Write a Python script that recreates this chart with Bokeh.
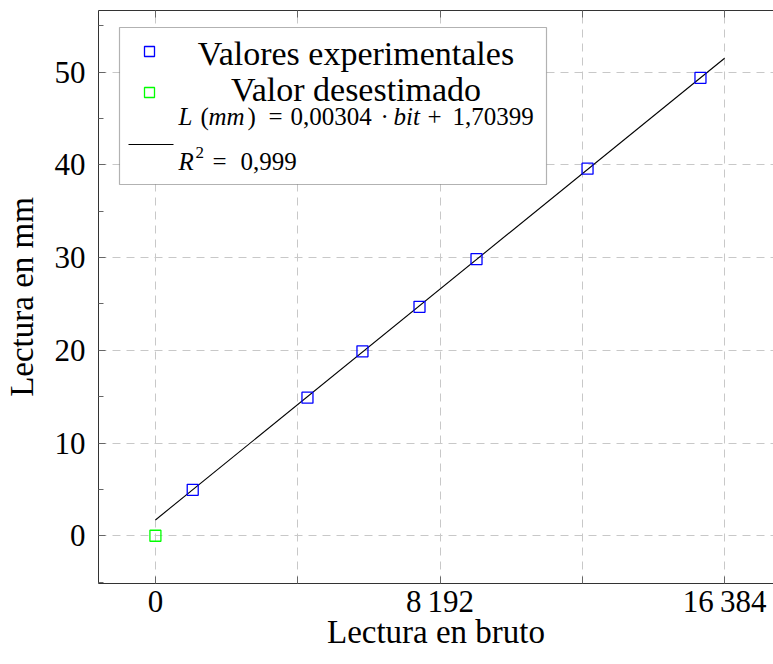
from bokeh.plotting import figure
from bokeh.models import Range1d, FixedTicker, LinearAxis, BoxAnnotation
from bokeh.core.properties import value
from bokeh.embed import file_html
from bokeh.resources import INLINE

# ---- data ----
bits_exp = [1074, 4377, 5960, 7602, 9243, 12439, 15690]
mm_exp = [4.96, 14.9, 19.9, 24.7, 29.85, 39.6, 49.4]
bits_desest = [0]
mm_desest = [0]
slope = 0.00304
intercept = 1.70399
r2_text = "0,999"
fit_bits = [0, 16384]
fit_mm = [slope * b + intercept for b in fit_bits]

x_ticks = [0, 4096, 8192, 12288, 16384]
x_tick_labels = {0: "0", 4096: "", 8192: "8\u2009192", 12288: "", 16384: "16\u2009384"}
y_ticks = [0, 10, 20, 30, 40, 50]
y_minor = [-5, 5, 15, 25, 35, 45, 55]

SERIF = "'Liberation Serif', serif"

W, H = 773, 664
FL, FT, FW, FH = 98, 10, 675, 573
XMIN, XFULL = -1638.4, 19660.8
XMAX = XMIN + FW / 683 * XFULL
YMIN, YMAX = -5.15, 56.66

p = figure(width=W, height=H, output_backend="svg", toolbar_location=None,
           x_range=Range1d(XMIN, XMAX), y_range=Range1d(YMIN, YMAX),
           min_border_left=FL, min_border_right=0, min_border_top=FT,
           min_border_bottom=H - FT - FH, x_axis_label="Lectura en bruto",
           y_axis_label="Lectura en mm")
p.outline_line_color = None
p.background_fill_color = "white"
p.border_fill_color = "white"

xt = FixedTicker(ticks=x_ticks, minor_ticks=[])
yt = FixedTicker(ticks=y_ticks, minor_ticks=y_minor)

for ax in (p.xaxis[0], p.yaxis[0]):
    ax.major_tick_out = 0
    ax.major_tick_in = 7
    ax.minor_tick_out = 0
    ax.minor_tick_in = 5
    ax.axis_line_color = "#333333"
    ax.major_tick_line_color = "#666666"
    ax.minor_tick_line_color = "#666666"
    ax.major_label_text_font = SERIF
    ax.major_label_text_font_size = "31px"
    ax.major_label_text_color = "black"
    ax.axis_label_text_font = SERIF
    ax.axis_label_text_font_size = "33px"
    ax.axis_label_text_font_style = "normal"
    ax.axis_label_text_color = "black"

p.xaxis[0].ticker = xt
p.xaxis[0].major_label_overrides = x_tick_labels
p.xaxis[0].major_label_standoff = 0
p.xaxis[0].axis_label_standoff = -8
p.yaxis[0].ticker = yt
p.yaxis[0].major_label_standoff = 13
p.yaxis[0].axis_label_standoff = 12

top = LinearAxis(ticker=xt, major_tick_out=0, major_tick_in=7, minor_tick_out=0,
                 major_label_text_font_size="0px", major_label_standoff=0,
                 axis_line_color="#333333", major_tick_line_color="#666666")
top.major_label_overrides = {t: "" for t in x_ticks}
p.add_layout(top, "above")

p.xgrid.ticker = xt
p.ygrid.ticker = yt
for g in (p.xgrid[0], p.ygrid[0]):
    g.grid_line_color = "#c8c8c8"
    g.grid_line_dash = "8 6"
    g.grid_line_width = 1

# fit line and points
p.line(fit_bits, fit_mm, line_color="black", line_width=1.1)
p.scatter(bits_exp, mm_exp, marker="square", size=11, fill_color=None,
          line_color="#0000ff", line_width=1.3)
p.scatter(bits_desest, mm_desest, marker="square", size=11, fill_color=None,
          line_color="#00ff00", line_width=1.3)

# ---- legend (built by hand) ----
def dx(px):
    return XMIN + (px - FL) / FW * (XMAX - XMIN)

def dy(py):
    return YMAX - (py - FT) / FH * (YMAX - YMIN)

box = BoxAnnotation(left=dx(119), right=dx(546), top=dy(27), bottom=dy(184),
                    fill_color="white", fill_alpha=1.0, line_color="black",
                    line_width=1.2, level="annotation")
p.add_layout(box)

p.scatter([dx(149)], [dy(51)], marker="square", size=10, fill_color=None,
          line_color="#0000ff", line_width=1.3, level="overlay")
p.scatter([dx(149)], [dy(92)], marker="square", size=10, fill_color=None,
          line_color="#00ff00", line_width=1.3, level="overlay")
p.line([dx(128), dx(173)], [dy(144), dy(144)], line_color="black",
       line_width=1.1, level="overlay")

def lab(px, py, text, size, style="normal", align="left"):
    # baseline correction for the renderer
    p.text(x=[dx(px)], y=[dy(py - 0.3 * size)], text=[text],
           text_font=value(SERIF), text_font_size=f"{size}px",
           text_font_style=style, text_align=align,
           text_baseline="alphabetic", text_color="black", level="overlay")

lab(355.5, 63, "Valores experimentales", 34, align="center")
lab(355.5, 99, "Valor desestimado", 34, align="center")

ms = 25
lab(178, 123, "L", ms, "italic")
lab(200, 123, "(", ms)
lab(208, 123, "mm", ms, "italic")
lab(247, 123, ")", ms)
lab(268, 123, "=", ms)
lab(290, 123, "0,00304", ms)
lab(380, 123, "\u00b7", ms)
lab(393, 123, "bit", ms, "italic")
lab(427, 123, "+", ms)
lab(452, 123, "1,70399", ms)

lab(178, 168, "R", ms, "italic")
lab(195, 157, "2", 17)
lab(212, 168, "=", ms)
lab(240, 168, r2_text, ms)

open("out.html", "w").write(file_html(p, INLINE))
